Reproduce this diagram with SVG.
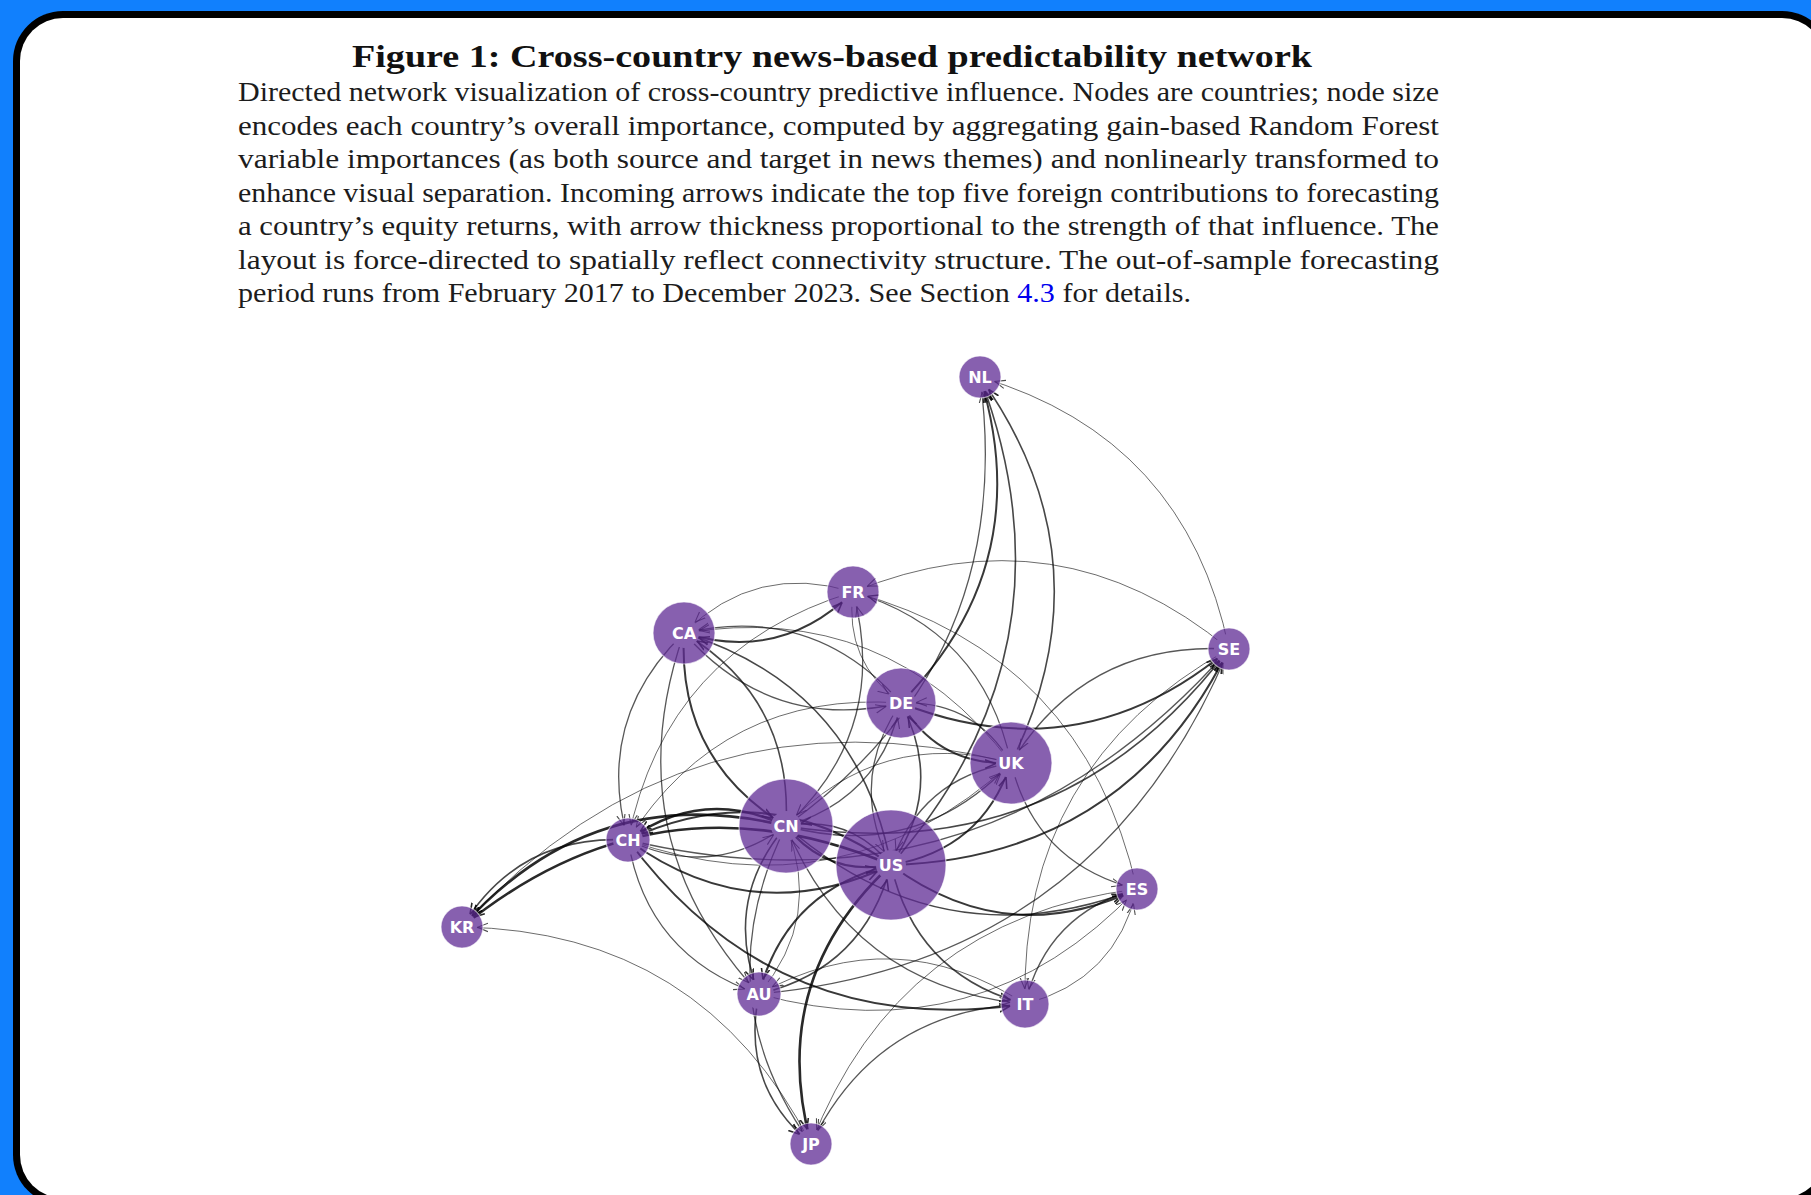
<svg xmlns="http://www.w3.org/2000/svg" width="1811" height="1195" viewBox="0 0 1811 1195">
  <defs>
    <style>
      .cap{font-family:"Liberation Serif","Times New Roman",serif;font-size:27px;fill:#1c1c1c}
      .ttl{font-family:"Liberation Serif","Times New Roman",serif;font-size:31px;font-weight:bold;fill:#111}
      .link{fill:#0000ee}
      #edges path{fill:none;stroke:#000}
      .a{stroke-width:1;stroke-opacity:.58;marker-end:url(#hA)}
      .b{stroke-width:1.3;stroke-opacity:.66;marker-end:url(#hA)}
      .c{stroke-width:1.6;stroke-opacity:.72;marker-end:url(#hB)}
      .d{stroke-width:2;stroke-opacity:.78;marker-end:url(#hB)}
      .e{stroke-width:2.6;stroke-opacity:.84;marker-end:url(#hB)}
      .node circle{fill:#5f2b94;fill-opacity:.75;stroke:#fff;stroke-opacity:.6;stroke-width:1.2}
      .node text{font-family:"DejaVu Sans",sans-serif;font-weight:bold;font-size:16px;fill:#fff;text-anchor:middle}
    </style>
    <!-- open "->" arrowheads; tip sits 16px short of the path end (node centre) -->
    <marker id="hA" markerUnits="userSpaceOnUse" markerWidth="30" markerHeight="12" viewBox="0 0 30 12" refX="26" refY="6" orient="auto">
      <path d="M0,1.8 L10.5,6 L0,10.2" fill="none" stroke="#000" stroke-opacity=".7" stroke-width="1.1"/>
    </marker>
    <marker id="hB" markerUnits="userSpaceOnUse" markerWidth="30" markerHeight="12" viewBox="0 0 30 12" refX="26" refY="6" orient="auto">
      <path d="M0,1.8 L10.5,6 L0,10.2" fill="none" stroke="#000" stroke-opacity=".85" stroke-width="1.6"/>
    </marker>
    <!-- hides the last few pixels of every edge at the node centres -->
    <mask id="hub" maskUnits="userSpaceOnUse" x="0" y="0" width="1811" height="1195">
      <rect width="1811" height="1195" fill="#fff"/>
      <g fill="#000">
        <circle cx="980" cy="377" r="15"/><circle cx="1229" cy="649" r="15"/>
        <circle cx="853" cy="592" r="15"/><circle cx="684" cy="633" r="15"/>
        <circle cx="901" cy="703" r="15"/><circle cx="1011" cy="763" r="15"/>
        <circle cx="786" cy="826" r="15"/><circle cx="891" cy="865" r="15"/>
        <circle cx="628" cy="840" r="15"/><circle cx="462" cy="927" r="15"/>
        <circle cx="1137" cy="889" r="15"/><circle cx="759" cy="994" r="15"/>
        <circle cx="1025" cy="1004" r="15"/><circle cx="811" cy="1144" r="15"/>
      </g>
    </mask>
  </defs>

  <!-- page frame -->
  <rect width="1811" height="1195" fill="#1180fd"/>
  <rect x="13" y="11" width="1819" height="1194" rx="50" fill="#000"/>
  <rect x="20" y="18" width="1805" height="1180" rx="43" fill="#fff"/>

  <!-- caption -->
  <g id="caption">
    <text class="ttl" x="352" y="67" textLength="960" lengthAdjust="spacingAndGlyphs">Figure 1: Cross-country news-based predictability network</text>
    <text class="cap" x="238" y="101" textLength="1201" lengthAdjust="spacingAndGlyphs">Directed network visualization of cross-country predictive influence. Nodes are countries; node size</text>
    <text class="cap" x="238" y="134.5" textLength="1201" lengthAdjust="spacingAndGlyphs">encodes each country’s overall importance, computed by aggregating gain-based Random Forest</text>
    <text class="cap" x="238" y="168" textLength="1201" lengthAdjust="spacingAndGlyphs">variable importances (as both source and target in news themes) and nonlinearly transformed to</text>
    <text class="cap" x="238" y="201.5" textLength="1201" lengthAdjust="spacingAndGlyphs">enhance visual separation. Incoming arrows indicate the top five foreign contributions to forecasting</text>
    <text class="cap" x="238" y="235" textLength="1201" lengthAdjust="spacingAndGlyphs">a country’s equity returns, with arrow thickness proportional to the strength of that influence. The</text>
    <text class="cap" x="238" y="268.5" textLength="1201" lengthAdjust="spacingAndGlyphs">layout is force-directed to spatially reflect connectivity structure.  The out-of-sample forecasting</text>
    <text class="cap" x="238" y="302" textLength="953" lengthAdjust="spacingAndGlyphs">period runs from February 2017 to December 2023. See Section <tspan class="link">4.3</tspan> for details.</text>
  </g>

  <!-- directed edges: quadratic arcs, source centre -> target centre -->
  <g id="edges" mask="url(#hub)">
    <!-- into NL -->
    <path class="d" d="M901 703 Q1038 564 980 377"/>
    <path class="c" d="M891 865 Q1082 648 980 377"/>
    <path class="c" d="M1011 763 Q1111 561 980 377"/>
    <path class="b" d="M786 826 Q1018 660 980 377"/>
    <path class="a" d="M1229 649 Q1186 438 980 377"/>
    <!-- into SE -->
    <path class="d" d="M891 865 Q1125 858 1229 649"/>
    <path class="c" d="M786 826 Q1061 870 1229 649"/>
    <path class="d" d="M901 703 Q1081 774 1229 649"/>
    <path class="b" d="M628 840 Q986 925 1229 649"/>
    <path class="b" d="M759 994 Q1098 963 1229 649"/>
    <!-- into FR -->
    <path class="d" d="M684 633 Q781 663 853 592"/>
    <path class="a" d="M1229 649 Q1058 508 853 592"/>
    <path class="b" d="M786 826 Q890 729 853 592"/>
    <path class="b" d="M1011 763 Q983 630 853 592"/>
    <path class="a" d="M1137 889 Q1084 655 853 592"/>
    <!-- into CA -->
    <path class="a" d="M853 592 Q756 562 684 633"/>
    <path class="a" d="M1011 763 Q887 600 684 633"/>
    <path class="c" d="M786 826 Q793 699 684 633"/>
    <path class="c" d="M891 865 Q857 687 684 633"/>
    <path class="b" d="M901 703 Q814 603 684 633"/>
    <!-- into DE -->
    <path class="b" d="M684 633 Q772 733 901 703"/>
    <path class="b" d="M786 826 Q880 799 901 703"/>
    <path class="c" d="M891 865 Q945 787 901 703"/>
    <path class="a" d="M853 592 Q844 662 901 703"/>
    <path class="b" d="M1011 763 Q974 700 901 703"/>
    <!-- into UK -->
    <path class="d" d="M901 703 Q938 766 1011 763"/>
    <path class="d" d="M891 865 Q982 850 1011 763"/>
    <path class="b" d="M786 826 Q917 862 1011 763"/>
    <path class="b" d="M1229 649 Q1086 641 1011 763"/>
    <path class="a" d="M628 840 Q843 916 1011 763"/>
    <!-- into CN -->
    <path class="c" d="M891 865 Q850 814 786 826"/>
    <path class="b" d="M628 840 Q711 880 786 826"/>
    <path class="d" d="M684 633 Q677 760 786 826"/>
    <path class="a" d="M1011 763 Q880 727 786 826"/>
    <path class="a" d="M759 994 Q823 918 786 826"/>
    <!-- into US -->
    <path class="d" d="M786 826 Q827 877 891 865"/>
    <path class="d" d="M628 840 Q752 931 891 865"/>
    <path class="b" d="M901 703 Q847 781 891 865"/>
    <path class="b" d="M1011 763 Q920 778 891 865"/>
    <path class="c" d="M759 994 Q864 969 891 865"/>
    <!-- into CH -->
    <path class="e" d="M786 826 Q703 786 628 840"/>
    <path class="d" d="M891 865 Q767 774 628 840"/>
    <path class="b" d="M684 633 Q594 720 628 840"/>
    <path class="a" d="M853 592 Q666 649 628 840"/>
    <path class="a" d="M901 703 Q723 690 628 840"/>
    <!-- into KR -->
    <path class="e" d="M786 826 Q594 779 462 927"/>
    <path class="e" d="M891 865 Q658 767 462 927"/>
    <path class="c" d="M628 840 Q519 834 462 927"/>
    <path class="a" d="M811 1144 Q702 931 462 927"/>
    <path class="a" d="M1011 763 Q687 680 462 927"/>
    <!-- into ES -->
    <path class="d" d="M891 865 Q1007 951 1137 889"/>
    <path class="b" d="M1011 763 Q1036 864 1137 889"/>
    <path class="c" d="M786 826 Q943 963 1137 889"/>
    <path class="a" d="M1025 1004 Q1116 980 1137 889"/>
    <path class="a" d="M759 994 Q980 1055 1137 889"/>
    <!-- into AU -->
    <path class="c" d="M786 826 Q722 902 759 994"/>
    <path class="d" d="M891 865 Q786 890 759 994"/>
    <path class="b" d="M684 633 Q613 836 759 994"/>
    <path class="b" d="M628 840 Q647 956 759 994"/>
    <path class="a" d="M1025 1004 Q895 919 759 994"/>
    <!-- into IT -->
    <path class="c" d="M891 865 Q916 975 1025 1004"/>
    <path class="d" d="M628 840 Q777 1041 1025 1004"/>
    <path class="b" d="M786 826 Q852 987 1025 1004"/>
    <path class="b" d="M1137 889 Q1047 913 1025 1004"/>
    <path class="a" d="M1229 649 Q1020 765 1025 1004"/>
    <!-- into JP -->
    <path class="e" d="M891 865 Q767 980 811 1144"/>
    <path class="c" d="M759 994 Q740 1085 811 1144"/>
    <path class="b" d="M786 826 Q703 993 811 1144"/>
    <path class="b" d="M1025 1004 Q876 1010 811 1144"/>
    <path class="a" d="M1137 889 Q898 919 811 1144"/>
  </g>

  <!-- country nodes -->
  <g id="node-NL" class="node"><circle cx="980" cy="377" r="21"/><text x="980" y="383">NL</text></g>
  <g id="node-SE" class="node"><circle cx="1229" cy="649" r="21"/><text x="1229" y="655">SE</text></g>
  <g id="node-FR" class="node"><circle cx="853" cy="592" r="26"/><text x="853" y="598">FR</text></g>
  <g id="node-CA" class="node"><circle cx="684" cy="633" r="31"/><text x="684" y="639">CA</text></g>
  <g id="node-DE" class="node"><circle cx="901" cy="703" r="35"/><text x="901" y="709">DE</text></g>
  <g id="node-UK" class="node"><circle cx="1011" cy="763" r="41"/><text x="1011" y="769">UK</text></g>
  <g id="node-CN" class="node"><circle cx="786" cy="826" r="47"/><text x="786" y="832">CN</text></g>
  <g id="node-US" class="node"><circle cx="891" cy="865" r="55"/><text x="891" y="871">US</text></g>
  <g id="node-CH" class="node"><circle cx="628" cy="840" r="22"/><text x="628" y="846">CH</text></g>
  <g id="node-KR" class="node"><circle cx="462" cy="927" r="21"/><text x="462" y="933">KR</text></g>
  <g id="node-ES" class="node"><circle cx="1137" cy="889" r="21"/><text x="1137" y="895">ES</text></g>
  <g id="node-AU" class="node"><circle cx="759" cy="994" r="22"/><text x="759" y="1000">AU</text></g>
  <g id="node-IT" class="node"><circle cx="1025" cy="1004" r="24"/><text x="1025" y="1010">IT</text></g>
  <g id="node-JP" class="node"><circle cx="811" cy="1144" r="21"/><text x="811" y="1150">JP</text></g>
</svg>
